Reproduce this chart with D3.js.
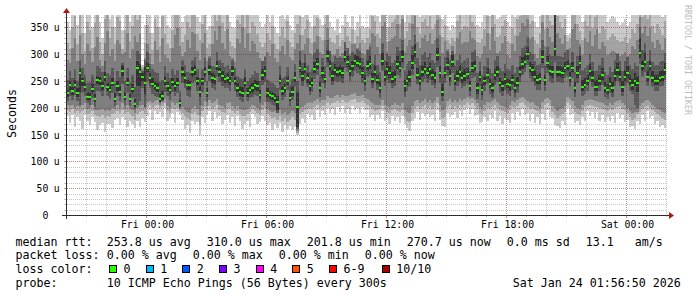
<!DOCTYPE html>
<html>
<head>
<meta charset="utf-8">
<script src="https://cdn.jsdelivr.net/npm/d3@7"></script>
<style>
  body { margin: 0; background: #fff; }
  svg { display: block; }
  text { font-family: "DejaVu Sans Mono", monospace; fill: #000; }
</style>
</head>
<body>
<div id="vis"></div>
<script>
// One step = 7.5 min, 240 steps over the last 30 hours. Values in microseconds.
var median = [
  227,242,232,242,227,264,249,239,221,221,235,216,252,250,240,258,239,234,247,217,240,229,268,221,247,217,235,207,275,266,258,247,275,255,245,240,237,217,222,250,
  240,233,248,240,247,208,267,255,242,242,267,270,250,230,249,267,227,270,255,253,278,266,259,254,255,250,268,250,237,230,228,247,227,234,236,242,240,224,262,268,
  227,224,222,218,211,250,231,236,250,219,230,255,202,275,259,272,255,240,247,273,281,237,264,254,296,278,260,270,266,268,265,295,285,269,277,288,284,281,265,250,
  278,282,254,267,252,236,288,258,272,265,254,258,282,275,295,240,250,257,283,304,262,250,267,272,264,272,261,255,298,265,230,264,280,259,285,250,259,267,255,259,
  263,240,275,278,236,258,233,250,262,244,236,261,267,247,240,253,244,242,252,237,247,266,282,286,300,275,270,258,252,253,294,252,284,269,266,310,267,267,264,275,
  278,255,275,236,264,283,239,242,249,269,255,239,239,250,261,236,233,244,236,259,270,258,238,258,265,250,242,250,247,303,277,286,258,277,255,250,249,255,257,271
];

// the ten pings of each step, fastest (p1) to slowest (p10)
var p1 = [
  184,172,186,165,182,176,160,186,175,168,182,174,158,168,172,155,170,169,162,178,181,168,183,177,165,175,170,162,176,165,180,174,185,196,178,194,188,192,182,199,
  176,180,190,172,192,186,178,160,168,152,176,170,174,150,182,172,186,194,176,192,180,184,170,178,186,172,182,166,184,176,160,170,176,165,188,182,170,174,184,176,
  168,172,158,170,162,172,155,168,160,166,158,164,149,170,180,172,188,182,186,178,196,182,194,186,200,190,198,186,202,192,204,190,198,188,204,196,200,190,202,196,
  196,182,186,176,186,180,194,176,180,170,184,176,182,172,184,170,162,156,176,180,192,178,190,184,188,182,186,176,196,178,166,164,190,182,186,192,180,194,184,196,
  200,188,198,184,186,172,174,182,176,186,180,194,176,184,170,180,178,172,190,178,192,184,198,186,190,176,188,172,182,170,188,178,196,182,180,168,166,162,176,168,
  200,186,188,172,176,168,182,176,194,184,192,180,192,176,186,174,182,176,184,172,190,180,186,174,178,165,166,160,176,170,186,176,194,180,184,170,176,164,168,162
];
var p2 = [
  196,192,197,190,194,190,194,198,188,190,194,186,184,182,186,180,184,182,188,190,194,190,196,188,193,188,184,178,188,192,194,188,202,205,200,204,206,200,203,208,
  194,190,200,198,200,194,190,184,180,178,188,192,186,168,194,202,196,204,198,202,206,196,192,190,198,200,194,190,194,188,184,184,188,192,198,194,190,186,196,200,
  188,184,180,182,178,184,176,180,174,178,182,178,152,188,192,196,198,200,198,202,206,200,204,204,210,206,208,210,212,208,214,210,210,212,214,216,210,210,212,208,
  206,202,198,194,196,198,204,196,192,190,196,198,194,192,196,182,176,174,190,200,204,198,202,206,200,204,198,202,208,192,180,182,202,206,198,204,200,206,202,206,
  210,206,208,204,198,190,186,194,200,198,202,206,200,196,194,192,190,196,202,200,204,208,210,206,202,198,200,196,194,190,200,206,208,204,192,186,180,184,188,192,
  210,206,200,192,188,186,194,202,204,206,204,202,202,200,198,196,194,198,196,200,202,204,198,196,190,182,178,180,188,192,198,202,204,200,196,192,188,184,180,178
];
var p3 = [
  205,204,206,200,204,202,206,208,198,200,205,196,196,195,198,194,196,194,200,198,205,200,208,198,205,198,196,190,200,204,206,200,210,212,208,212,214,206,210,216,
  204,200,210,206,208,198,202,196,192,190,200,204,198,186,204,212,204,214,208,212,216,206,204,200,208,210,204,200,204,198,196,196,198,202,206,204,200,196,206,210,
  198,194,192,194,190,196,188,192,186,190,194,190,156,200,202,206,208,210,208,212,216,210,214,214,222,218,218,222,224,220,224,222,222,224,226,228,222,222,224,218,
  216,212,208,206,206,206,214,206,204,202,206,208,206,204,208,196,192,190,204,212,214,208,212,216,210,214,208,212,220,206,196,198,212,216,210,214,210,216,212,216,
  220,216,218,214,208,202,198,206,210,208,212,216,210,206,204,202,200,206,212,210,214,218,220,216,212,208,210,206,204,200,210,216,218,214,204,200,194,198,200,204,
  220,216,212,204,200,198,206,212,214,216,214,212,212,210,208,206,204,208,206,210,212,214,208,206,200,194,190,192,200,204,208,212,214,210,206,202,198,196,192,190
];
var p4 = [
  212,222,214,224,212,230,228,222,208,206,218,202,232,230,222,238,222,216,228,204,222,212,245,206,228,204,218,198,240,238,236,226,250,236,226,222,220,208,212,230,
  222,214,230,222,228,200,246,236,222,220,246,250,232,206,230,248,210,250,236,234,258,248,240,236,236,232,248,232,220,214,210,228,212,218,220,224,222,208,242,248,
  210,208,206,204,196,234,214,220,234,204,214,238,160,256,240,252,238,224,230,254,262,220,246,236,276,258,242,250,248,250,246,274,266,250,258,268,264,262,246,232,
  258,262,236,248,234,218,268,240,252,246,236,240,262,256,274,220,232,238,262,282,244,232,248,254,246,252,242,236,276,246,212,246,260,240,264,232,240,248,236,240,
  244,222,256,258,216,240,214,232,244,226,218,242,248,228,222,234,226,222,234,218,228,248,262,266,280,256,250,240,234,234,274,232,264,250,246,286,248,248,246,256,
  258,238,256,220,246,262,222,226,232,250,238,222,222,232,242,220,216,228,220,240,250,240,222,240,246,232,226,206,230,282,258,266,240,258,238,232,232,238,240,252
];
var p5 = [
  220,234,224,236,220,205,240,232,214,214,228,210,244,242,233,250,232,228,240,210,232,222,258,214,240,210,228,202,205,212,250,202,266,247,238,233,230,210,215,242,
  232,226,240,232,240,203,258,246,234,234,258,262,242,220,242,258,220,262,246,244,270,258,250,246,246,242,260,242,230,222,220,238,220,226,228,234,232,216,252,258,
  218,216,214,210,190,244,224,228,242,212,222,248,165,266,250,264,246,232,240,264,272,228,256,246,286,268,250,262,258,260,256,286,276,260,268,280,276,272,256,242,
  268,272,246,258,244,228,278,250,262,256,246,250,272,266,286,230,242,248,272,294,254,242,258,264,256,262,252,246,288,256,222,256,270,250,276,242,250,258,246,250,
  254,232,266,268,226,250,224,242,254,236,228,252,258,238,232,244,236,232,244,228,238,258,272,276,290,266,260,250,244,244,284,242,274,260,256,296,258,258,256,266,
  268,248,266,228,256,274,232,236,242,260,248,232,232,242,252,228,226,238,228,250,262,250,230,250,256,242,234,240,192,292,268,278,250,268,248,242,242,248,250,262
];
var p6 = [
  234,250,238,252,236,272,256,246,230,228,244,226,260,258,248,266,246,242,256,228,250,240,280,230,256,226,244,216,288,282,264,276,284,264,256,248,246,226,232,260,
  248,240,256,248,256,214,276,264,252,250,276,280,258,240,256,276,236,280,264,262,288,274,268,262,264,258,278,258,246,240,238,258,236,242,246,252,250,234,272,278,
  236,232,230,226,222,262,240,244,260,228,240,266,230,290,268,284,264,250,256,286,292,248,276,262,308,290,270,282,276,280,276,306,296,280,288,300,296,292,276,262,
  290,296,264,280,262,248,302,270,286,278,266,270,296,288,308,252,262,270,298,318,274,262,280,286,276,284,272,266,312,278,244,276,292,272,298,262,270,280,266,272,
  274,250,286,290,246,268,244,260,274,254,246,272,278,256,250,264,254,252,262,246,258,278,294,298,314,286,282,270,262,264,308,262,296,280,278,400,278,278,276,286,
  290,266,286,248,278,296,252,256,262,282,268,250,252,262,274,248,244,258,248,272,284,270,250,270,278,262,254,264,260,330,290,302,270,290,268,262,262,268,270,284
];
var p7 = [
  252,268,256,272,250,290,275,262,246,248,262,246,278,274,266,288,264,262,274,246,268,258,300,250,274,246,262,238,305,300,272,292,304,282,272,266,264,248,252,278,
  264,256,272,262,270,232,290,280,266,264,290,294,272,256,272,292,250,296,278,276,304,290,284,276,280,272,292,274,260,256,254,272,250,256,262,268,264,250,288,294,
  252,248,246,242,236,278,256,260,276,242,254,282,250,306,284,300,280,266,272,302,310,262,292,278,326,306,286,298,292,296,292,322,312,296,304,318,312,306,292,278,
  308,314,282,298,280,266,320,290,304,296,284,290,314,306,326,270,282,288,316,336,292,280,298,304,294,302,290,284,330,296,262,294,310,290,316,280,290,298,284,290,
  292,268,304,308,264,286,262,278,292,272,264,290,296,274,268,282,272,270,280,264,276,296,312,316,332,304,300,288,280,282,326,280,314,298,296,410,296,296,294,304,
  308,284,304,266,296,314,270,274,280,300,286,268,270,280,292,266,262,276,266,290,302,288,268,288,296,280,272,284,278,350,308,320,288,308,286,280,280,286,288,302
];
var p8 = [
  290,284,312,330,288,336,300,282,318,306,286,314,332,290,278,320,344,296,310,288,326,318,284,304,340,292,310,334,322,338,268,290,318,300,282,324,308,286,330,298,
  292,286,312,336,348,316,296,304,326,312,342,338,306,290,320,340,288,292,318,344,326,352,320,310,346,296,290,286,328,320,350,312,340,306,324,318,304,292,288,296,
  304,296,318,292,286,306,316,298,326,294,290,310,320,336,308,318,330,302,298,322,334,304,300,326,348,306,298,296,310,294,302,322,312,300,318,298,310,320,302,298,
  310,320,340,334,314,300,352,360,300,324,330,334,356,330,366,304,316,326,356,372,322,312,330,336,324,340,318,326,364,336,302,324,306,298,306,300,330,342,318,322,
  322,344,330,326,296,292,300,316,340,308,350,324,302,306,320,334,298,292,318,306,334,342,358,352,366,328,332,300,292,312,360,316,348,332,322,420,340,330,318,336,
  310,312,346,356,326,318,298,330,322,344,316,336,346,310,322,316,298,302,306,304,300,296,298,304,294,300,316,310,326,370,340,352,334,348,322,312,326,318,308,330
];
var p9 = [
  320,310,350,372,318,380,340,305,360,345,312,358,376,322,300,365,390,330,350,318,370,362,310,345,385,324,352,378,364,380,276,320,355,340,308,366,350,315,372,338,
  318,312,345,378,390,350,322,335,360,348,385,380,338,326,356,382,312,318,352,386,362,395,358,344,388,325,316,312,364,356,392,348,384,340,360,352,338,322,314,320,
  340,326,352,318,310,334,350,330,362,322,314,340,356,372,336,346,364,328,320,352,368,332,326,356,380,330,322,318,336,316,326,350,334,324,346,320,334,348,326,320,
  330,346,372,362,338,330,380,390,322,350,360,366,386,356,395,330,344,358,388,400,350,338,360,366,352,372,346,356,392,368,332,354,326,318,330,324,362,374,346,352,
  350,376,360,352,322,320,328,346,372,338,380,356,332,336,352,364,324,320,348,336,366,372,386,380,396,356,362,326,318,340,392,346,378,362,354,430,372,360,348,366,
  325,330,380,390,356,344,326,362,352,376,348,370,378,340,352,346,326,332,338,334,326,322,324,332,320,328,346,340,356,390,370,384,366,378,352,340,356,346,336,362
];
var p10 = [
  360,345,390,400,355,410,380,340,400,390,350,395,405,360,330,400,420,365,395,350,410,400,345,390,415,360,400,420,395,410,280,355,400,380,340,405,395,350,410,385,
  355,348,380,400,410,390,360,372,395,385,405,400,370,360,395,410,345,352,390,405,400,420,395,380,410,360,350,348,400,395,410,385,405,380,395,390,375,360,350,356,
  380,360,395,350,340,372,390,365,400,355,345,380,395,410,370,385,400,360,350,390,405,365,355,395,410,360,350,345,365,340,355,380,360,350,372,345,360,375,352,348,
  350,380,405,395,372,360,400,410,350,385,395,400,410,392,420,360,380,395,410,430,385,370,395,400,388,405,380,392,420,400,365,390,352,345,355,350,395,405,380,390,
  385,400,392,388,355,350,360,380,395,372,400,390,365,370,385,392,360,352,380,370,395,400,410,405,420,390,395,360,350,372,420,380,405,395,388,440,400,392,380,396,
  335,340,395,405,390,380,360,395,385,400,380,395,400,375,385,380,360,365,372,368,360,355,358,365,352,360,380,375,390,420,400,410,395,405,385,375,390,380,370,395
];

var lossLabels = ["0", "1", "2", "3", "4", "5", "6-9", "10/10"];
var lossColors = ["#26ff00", "#00b8ff", "#0059ff", "#7e00ff", "#ff00ff", "#ff5500", "#ff0000", "#a80000"];
var rttStats = ["253.8 us avg", "310.0 us max", "201.8 us min", "270.7 us now", "0.0 ms sd", "13.1   am/s"];
var lossStats = ["0.00 % avg", "0.00 % max", "0.00 % min", "0.00 % now"];
var probeText = "10 ICMP Echo Pings (56 Bytes) every 300s";
var stamp = "Sat Jan 24 01:56:50 2026";

var W = 697, H = 297,
    pLeft = 66, pRight = 666, pTop = 15, pBottom = 215,
    t0 = Date.UTC(2026, 0, 22, 20), t1 = Date.UTC(2026, 0, 24, 2),
    step = 450e3,
    shades = ["#cacaca", "#a4a4a4", "#7e7e7e", "#585858", "#323232"],
    minorCol = "rgba(140,140,140,0.5)",
    majorCol = "rgba(130,30,30,0.5)",
    arrowCol = "#a31b1b";

var x = d3.scaleUtc().domain([t0, t1]).range([pLeft, pRight]),
    y = d3.scaleLinear().domain([0, 373]).range([pBottom, pTop]).clamp(true);

function px(t) { return Math.round(x(t)); }
function py(v) { return Math.round(y(v)); }

var svg = d3.select("#vis").append("svg")
    .attr("width", W)
    .attr("height", H);

svg.append("rect").attr("width", W).attr("height", H).attr("fill", "#fff");

// sort each step's pings, smokeping style
var pings = [p1, p2, p3, p4, p5, p6, p7, p8, p9, p10];
var rows = median.map(function(m, i) {
  return {
    t: t0 + i * step,
    m: m,
    v: pings.map(function(a) { return a[i]; }).sort(d3.ascending)
  };
});

var smoke = svg.append("g").attr("shape-rendering", "crispEdges");

// outer pair first, darker pairs on top
shades.forEach(function(c, k) {
  smoke.append("g").attr("fill", c)
    .selectAll("rect").data(rows).join("rect")
      .attr("x", function(d) { return px(d.t); })
      .attr("width", function(d) { return px(d.t + step) - px(d.t); })
      .attr("y", function(d) { return py(d.v[9 - k]); })
      .attr("height", function(d) { return py(d.v[k]) - py(d.v[9 - k]); });
});

// median, coloured by loss (all 0 here)
smoke.append("g").attr("fill", lossColors[0])
  .selectAll("rect").data(rows).join("rect")
    .attr("x", function(d) { return px(d.t); })
    .attr("width", function(d) { return px(d.t + step) - px(d.t); })
    .attr("y", function(d) { return py(d.m) - 1; })
    .attr("height", 2);

// grid goes over the graph, like rrdtool does it
var grid = svg.append("g").attr("shape-rendering", "crispEdges").attr("stroke-width", 1);

d3.range(10, 373, 10).forEach(function(v) {
  var yy = py(v) + 0.5, col = v % 50 === 0 ? majorCol : minorCol;
  grid.append("line")
      .attr("x1", pLeft + 1).attr("x2", pRight)
      .attr("y1", yy).attr("y2", yy)
      .attr("stroke", col).attr("stroke-dasharray", "1,1");
  grid.append("line")
      .attr("x1", pLeft - 2).attr("x2", pLeft)
      .attr("y1", yy).attr("y2", yy)
      .attr("stroke", col);
});

d3.utcHour.range(t0 + 1, t1 + 1).forEach(function(t) {
  var xx = px(t) + 0.5,
      major = new Date(t).getUTCHours() % 6 === 0,
      col = major ? majorCol : minorCol;
  grid.append("line")
      .attr("x1", xx).attr("x2", xx)
      .attr("y1", pTop).attr("y2", pBottom)
      .attr("stroke", col).attr("stroke-dasharray", "1,1");
  grid.append("line")
      .attr("x1", xx).attr("x2", xx)
      .attr("y1", pBottom).attr("y2", pBottom + (major ? 3 : 2))
      .attr("stroke", col);
});

// axes and arrows
var axis = svg.append("g").attr("shape-rendering", "crispEdges").attr("stroke", "#2b2b2b");
axis.append("line")
    .attr("x1", pLeft - 4).attr("x2", pRight + 4)
    .attr("y1", pBottom + 0.5).attr("y2", pBottom + 0.5);
axis.append("line")
    .attr("x1", pLeft + 0.5).attr("x2", pLeft + 0.5)
    .attr("y1", pBottom + 4).attr("y2", pTop - 4);

svg.append("path")
    .attr("d", "M" + (pRight + 3) + "," + (pBottom - 3) + "L" + (pRight + 8) + "," + (pBottom + 0.5) +
               "L" + (pRight + 3) + "," + (pBottom + 4) + "Z")
    .attr("fill", arrowCol);
svg.append("path")
    .attr("d", "M" + (pLeft - 3) + "," + (pTop - 2) + "L" + (pLeft + 0.5) + "," + (pTop - 7) +
               "L" + (pLeft + 4) + "," + (pTop - 2) + "Z")
    .attr("fill", arrowCol);

// axis labels
var labels = svg.append("g").style("font-size", "9.8px");
d3.range(0, 351, 50).forEach(function(v) {
  var yy = py(v) + 4;
  labels.append("text").attr("x", 48.3).attr("y", yy).attr("text-anchor", "end").text(v);
  if (v) labels.append("text").attr("x", 53.7).attr("y", yy).text("u");
});

var fmt = d3.utcFormat("%a %H:%M");
d3.utcHour.every(6).range(t0, t1).forEach(function(t) {
  labels.append("text")
      .attr("x", px(t) + 1.5).attr("y", 228)
      .attr("text-anchor", "middle")
      .text(fmt(t));
});

svg.append("text")
    .attr("transform", "translate(15.5,113.5) rotate(-90)")
    .attr("text-anchor", "middle")
    .style("font-size", "11.6px")
    .text("Seconds");

svg.append("text")
    .attr("transform", "translate(685,5) rotate(90)")
    .style("font-size", "8.3px")
    .style("fill", "#bdbdbd")
    .text("RRDTOOL / TOBI OETIKER");

// legend
var legend = svg.append("g").style("font-size", "11.63px");

function line(yy, items) {
  items.forEach(function(it) {
    legend.append("text").attr("x", it[0]).attr("y", yy)
        .style("white-space", "pre").text(it[1]);
  });
}

line(245.7, [[15.5, "median rtt:"]].concat(rttStats.map(function(s, i) {
  return [[106.8, 206.8, 306.8, 406.8, 506.8, 585.8][i], s];
})));
line(259.3, [[15.5, "packet loss:"]].concat(lossStats.map(function(s, i) {
  return [[106.8, 192.8, 278.8, 364.8][i], s];
})));
line(273, [[15.5, "loss color:"]]);
line(286.7, [[15.5, "probe:"], [106.8, probeText], [512.8, stamp]]);

var boxX = [109, 145.7, 182.3, 219, 255.7, 292.3, 329, 381.7];
lossLabels.forEach(function(l, i) {
  legend.append("rect")
      .attr("x", boxX[i] + 0.5).attr("y", 265.5)
      .attr("width", 7).attr("height", 7)
      .attr("fill", lossColors[i])
      .attr("stroke", "#000")
      .attr("shape-rendering", "crispEdges");
  legend.append("text").attr("x", boxX[i] + 14.5).attr("y", 273).text(l);
});
</script>
</body>
</html>
